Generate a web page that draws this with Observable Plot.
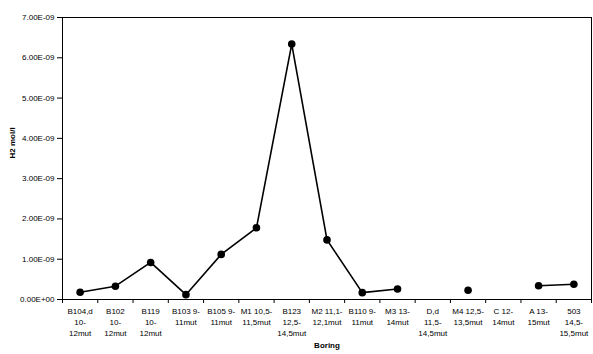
<!DOCTYPE html>
<html>
<head>
<meta charset="utf-8">
<script src="https://cdn.jsdelivr.net/npm/d3@7"></script>
<script src="https://cdn.jsdelivr.net/npm/@observablehq/plot@0.6"></script>
<style>
  html, body { margin: 0; padding: 0; background: #fff; }
  #chart svg { display: block; }
</style>
</head>
<body>
<div id="chart"></div>
<script>
const categories = [
  "B104,d\n10-\n12mut", "B102\n10-\n12mut", "B119\n10-\n12mut", "B103 9-\n11mut",
  "B105 9-\n11mut", "M1 10,5-\n11,5mut", "B123\n12,5-\n14,5mut", "M2 11,1-\n12,1mut",
  "B110 9-\n11mut", "M3 13-\n14mut", "D,d\n11,5-\n14,5mut", "M4 12,5-\n13,5mut",
  "C 12-\n14mut", "A 13-\n15mut", "503\n14,5-\n15,5mut"
];
const values = [
  1.8e-10, 3.3e-10, 9.2e-10, 1.2e-10, 1.12e-9, 1.78e-9, 6.34e-9, 1.48e-9,
  1.7e-10, 2.6e-10, null, 2.3e-10, null, 3.4e-10, 3.8e-10
];
const yTicks = [0, 1e-9, 2e-9, 3e-9, 4e-9, 5e-9, 6e-9, 7e-9];

const data = categories.map((c, i) => ({i: i + 0.5, label: c, value: values[i] == null ? undefined : values[i]}));

function sci(v) {
  if (v === 0) return "0.00E+00";
  const e = Math.floor(Math.log10(v) + 1e-9);
  const m = v / Math.pow(10, e);
  const sign = e < 0 ? "-" : "+";
  return m.toFixed(2) + "E" + sign + String(Math.abs(e)).padStart(2, "0");
}

const chart = Plot.plot({
  width: 593,
  height: 354,
  marginLeft: 62,
  marginRight: 2,
  marginTop: 17,
  marginBottom: 55,
  style: {fontFamily: "'Liberation Sans', Arial, sans-serif", fontSize: "8px", color: "#000", background: "#fff"},
  x: {type: "linear", domain: [0, categories.length]},
  y: {domain: [0, 7e-9]},
  marks: [
    Plot.frame({stroke: "#000", strokeWidth: 1}),
    Plot.axisY({ticks: yTicks, tickFormat: sci, tickSize: 5, tickPadding: 3, label: null}),
    Plot.text(["H2 mol/l"], {frameAnchor: "left", dx: -50, rotate: -90, text: d => d, fontWeight: "bold", fontSize: 8}),
    Plot.axisX({ticks: d3.range(categories.length + 1), tickFormat: () => "", tickSize: 4, label: null}),
    Plot.axisX({ticks: data.map(d => d.i), tickFormat: v => categories[Math.round(v - 0.5)], tickSize: 0, tickPadding: 7, lineHeight: 1.35, label: null}),
    Plot.text(["Boring"], {frameAnchor: "bottom", dy: 48, text: d => d, fontWeight: "bold", fontSize: 8}),
    Plot.line(data, {x: "i", y: "value", stroke: "#000", strokeWidth: 1.6}),
    Plot.dot(data.filter(d => d.value !== undefined), {x: "i", y: "value", r: 3.8, fill: "#000", stroke: "none"})
  ]
});
document.getElementById("chart").appendChild(chart);
</script>
</body>
</html>
